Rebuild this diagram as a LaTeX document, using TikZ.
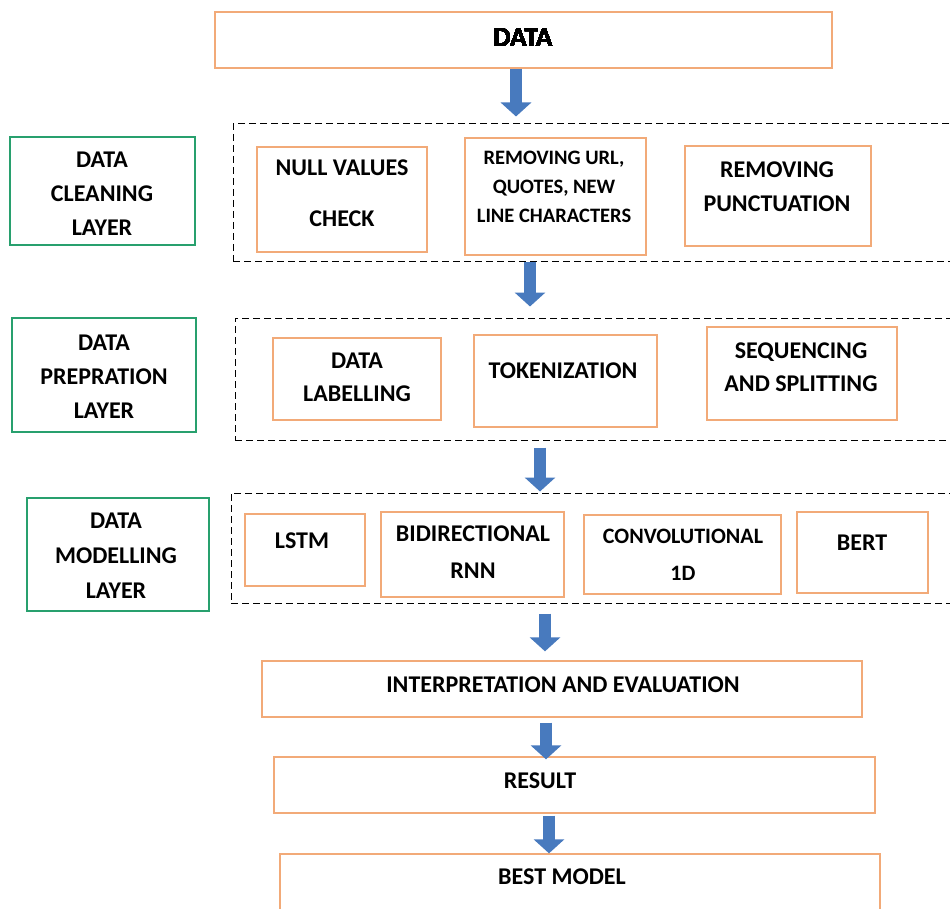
\documentclass[tikz,border=0pt]{standalone}
\usepackage{fontspec}
\setmainfont{Carlito}
\usetikzlibrary{arrows.meta}
\definecolor{boxorange}{RGB}{242,170,120}
\definecolor{boxgreen}{RGB}{40,160,110}
\definecolor{flowblue}{RGB}{72,122,190}
\begin{document}
\begin{tikzpicture}[x=1pt,y=-1pt,font=\bfseries\fontsize{24}{34}\selectfont,
		obox/.style={draw=boxorange,line width=1.3pt,inner sep=0pt},
		gbox/.style={draw=boxgreen,line width=1.3pt,inner sep=0pt},
		dbox/.style={draw=black,line width=1pt,dash pattern=on 7pt off 4pt,inner sep=0pt},
		flow/.style={draw=flowblue,line width=12pt,-{Triangle[length=14pt,width=30pt]}}]
	\newcommand\BoxAt[6]{
		\node[#6,minimum width={#4-#2},minimum height={#5-#3}] (#1) at ({(#2+#4)/2},{(#3+#5)/2}) {};
	}
	\useasboundingbox (0,0) rectangle (950,909);
	% frames
	\foreach \n/\xa/\ya/\xb/\yb in {cleanlayer/233/124/962/262,preplayer/235/318/962/440,modellayer/231/493/962/603}
	\BoxAt{\n}{\xa}{\ya}{\xb}{\yb}{dbox}
	\foreach \n/\xa/\ya/\xb/\yb in {cleanlab/10/137/195/245,preplab/12/318/196/432,modellab/27/498/209/611}
	\BoxAt{\n}{\xa}{\ya}{\xb}{\yb}{gbox}
	\foreach \n/\xa/\ya/\xb/\yb in {data/215/12/832/68,null/257/147/427/252,url/465/138/646/255,punct/685/146/871/246,
		label/273/338/441/420,token/474/335/657/427,seq/707/327/897/420,
		lstm/245/514/365/586,birnn/381/512/564/597,conv/584/515/781/594,bert/797/512/928/593,
		interp/262/661/862/717,result/274/757/875/813,best/280/854/880/925}
	\BoxAt{\n}{\xa}{\ya}{\xb}{\yb}{obox}
	% texts
	\node[font=\bfseries\fontsize{27.5}{34}\selectfont] (t-data) at (523,38) {DATA};
	\node[align=center] (t-cleanlab) at (102,194) {DATA\\CLEANING\\LAYER};
	\node[align=center,font=\bfseries\fontsize{24}{51}\selectfont] (t-null) at (342,193) {NULL VALUES\\CHECK};
	\node[align=center,font=\bfseries\fontsize{20.5}{29}\selectfont] (t-url) at (554,187) {REMOVING URL,\\QUOTES, NEW\\LINE CHARACTERS};
	\node[align=center] (t-punct) at (777,187) {REMOVING\\PUNCTUATION};
	\node[align=center] (t-preplab) at (104,377) {DATA\\PREPRATION\\LAYER};
	\node[align=center,font=\bfseries\fontsize{24}{33}\selectfont] (t-label) at (357,377) {DATA\\LABELLING};
	\node (t-token) at (563,371) {TOKENIZATION};
	\node[align=center,font=\bfseries\fontsize{24}{33}\selectfont] (t-seq) at (801,367) {SEQUENCING\\AND SPLITTING};
	\node[align=center,font=\bfseries\fontsize{24}{35}\selectfont] (t-modellab) at (116,556) {DATA\\MODELLING\\LAYER};
	\node (t-lstm) at (302,541) {LSTM};
	\node[align=center,font=\bfseries\fontsize{24}{37}\selectfont] (t-birnn) at (473,552) {BIDIRECTIONAL\\RNN};
	\node[align=center,font=\bfseries\fontsize{22}{37}\selectfont] (t-conv) at (683,555) {CONVOLUTIONAL\\1D};
	\node (t-bert) at (862,543) {BERT};
	\node (t-interp) at (563,685) {INTERPRETATION AND EVALUATION};
	\node (t-result) at (540,781) {RESULT};
	\node (t-best) at (562,877) {BEST MODEL};
	% arrows
	\foreach \i/\x in {1/516,2/530,3/540,4/545,5/546,6/549}
	\coordinate (a\i) at (\x,0);
	\draw[flow,shorten >=7pt] (data.south -| a1) -- (cleanlayer.north -| a1);
	\draw[flow,shorten >=11pt] (cleanlayer.south -| a2) -- (preplayer.north -| a2);
	\draw[flow,shorten <=7pt,shorten >=1pt] (preplayer.south -| a3) -- (modellayer.north -| a3);
	\draw[flow,shorten <=10pt,shorten >=9pt] (modellayer.south -| a4) -- (interp.north -| a4);
	\draw[flow,shorten <=5pt,shorten >=-3pt] (interp.south -| a5) -- (result.north -| a5);
	\draw[flow,shorten <=2pt] (result.south -| a6) -- (best.north -| a6);
\end{tikzpicture}
\end{document}
